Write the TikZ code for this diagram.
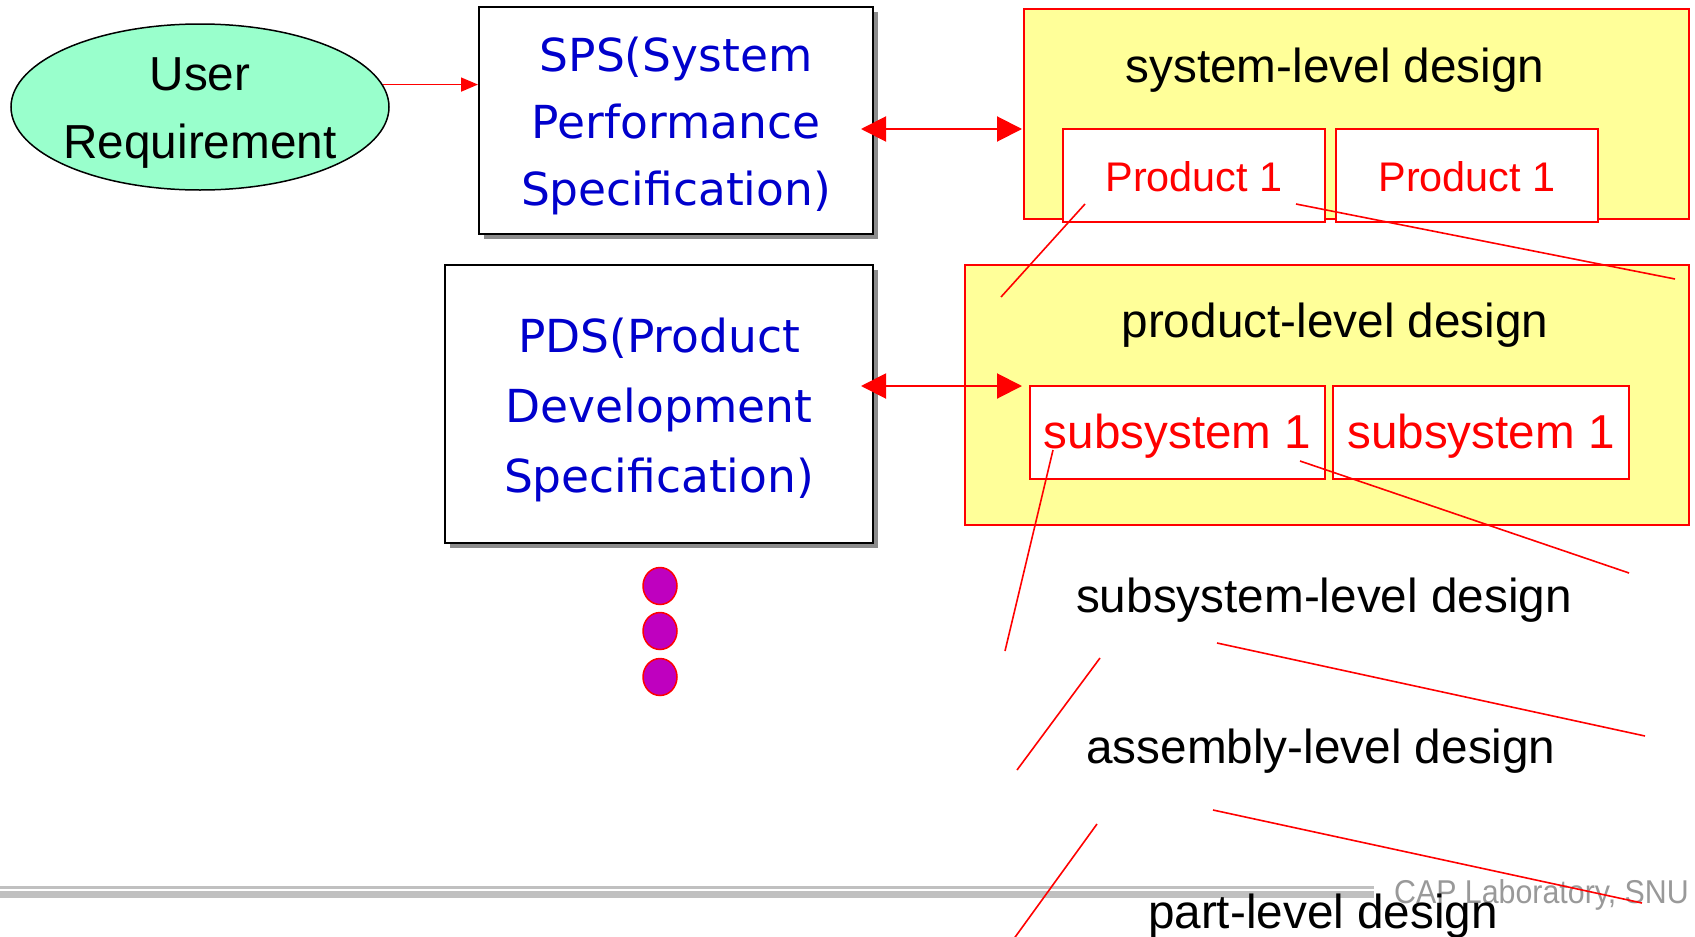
\documentclass[tikz,border=0pt]{standalone}
\usepackage{fontspec}
\setmainfont{Liberation Sans}
\newfontfamily\bluefont{DejaVu Sans}
\usetikzlibrary{arrows.meta,shapes.geometric,shadows}
\definecolor{urgreen}{HTML}{99FFCC}
\definecolor{dsyellow}{HTML}{FFFF99}
\definecolor{specblue}{HTML}{0000CC}
\definecolor{dotmag}{HTML}{BF00BF}
\definecolor{rulegray}{HTML}{C0C0C0}
\definecolor{capgray}{HTML}{999999}
\begin{document}
\begin{tikzpicture}[x=1pt,y=-1pt,
  blk/.style={font=\fontsize{47.7}{57}\selectfont, anchor=base, inner sep=0pt, text=black},
  redtxt/.style={font=\fontsize{#1}{50}\selectfont, anchor=base, inner sep=0pt, text=red},
  bluetxt/.style={font=\bluefont\fontsize{45.5}{55}\selectfont, anchor=base, inner sep=0pt, text=specblue},
  specbox/.style={rectangle, draw=black, line width=2pt, fill=white, inner sep=0pt,
    drop shadow={shadow xshift=5pt, shadow yshift=-5pt, opacity=1, fill=black!45}},
  levelbox/.style={rectangle, draw=red, line width=2pt, fill=dsyellow, inner sep=0pt},
  itembox/.style={rectangle, draw=red, line width=2pt, fill=white, inner sep=0pt},
  dotnode/.style={ellipse, draw=red, line width=1.5pt, fill=dotmag, minimum width=34pt, minimum height=37pt, inner sep=0pt},
  zoomline/.style={draw=red, line width=1.6pt},
  dblarrow/.style={draw=red, line width=2pt, {Triangle[length=25pt,width=25pt]}-{Triangle[length=25pt,width=25pt]}},
  smallarrow/.style={draw=red, line width=1.6pt, -{Triangle[length=17pt,width=14pt]}}
]
\useasboundingbox (0,0) rectangle (1695,937);
\fill[white] (0,0) rectangle (1695,937);

% bottom rules and footer
\coordinate (r1a) at (0,887.5);
\coordinate (r1b) at (1374,887.5);
\coordinate (r2a) at (0,894.5);
\coordinate (r2b) at (1374,894.5);
\draw[rulegray, line width=3pt] (r1a) -- (r1b);
\draw[rulegray, line width=7pt] (r2a) -- (r2b);
\node[anchor=base east, inner sep=0pt, text=capgray, font=\fontsize{33}{40}\selectfont] (cap) at (1689,903) {\scalebox{0.92}[1]{CAP Laboratory, SNU}};

% user requirement
\node[ellipse, draw=black, line width=1.5pt, fill=urgreen, minimum width=378pt, minimum height=166pt, inner sep=0pt] (ur) at (200,107) {};
\node[blk] (urt1) at (200,90) {User};
\node[blk] (urt2) at (200,158) {Requirement};

% spec boxes
\node[specbox, minimum width=394pt, minimum height=227pt] (sps) at (676,120.5) {};
\node[bluetxt] (spst1) at (676,71) {SPS(System};
\node[bluetxt] (spst2) at (676,138) {Performance};
\node[bluetxt] (spst3) at (676,205) {Specification)};

\node[specbox, minimum width=428pt, minimum height=278pt] (pds) at (659,404) {};
\node[bluetxt] (pdst1) at (659,352) {PDS(Product};
\node[bluetxt] (pdst2) at (659,422) {Development};
\node[bluetxt] (pdst3) at (659,492) {Specification)};

% dots
\node[dotnode] (d1) at (660,586) {};
\node[dotnode] (d2) at (660,631) {};
\node[dotnode] (d3) at (660,677) {};

% level boxes
\node[levelbox, minimum width=665pt, minimum height=210pt] (sysbox) at (1356.5,114) {};
\node[blk] (syst) at (1335,82) {system-level design};
\node[itembox, minimum width=262pt, minimum height=93pt] (p1a) at (1194,175.5) {};
\node[itembox, minimum width=262pt, minimum height=93pt] (p1b) at (1467,175.5) {};
\node[redtxt=41.4] (p1at) at (1194,191) {Product 1};
\node[redtxt=41.4] (p1bt) at (1467,191) {Product 1};

\node[levelbox, minimum width=724pt, minimum height=260pt] (prodbox) at (1327,395) {};
\node[blk] (prodt) at (1335,337) {product-level design};
\node[itembox, minimum width=295pt, minimum height=93pt] (s1a) at (1177.5,432.5) {};
\node[itembox, minimum width=296pt, minimum height=93pt] (s1b) at (1481,432.5) {};
\node[redtxt=47.6] (s1at) at (1177.5,448) {subsystem 1};
\node[redtxt=47.6] (s1bt) at (1481,448) {subsystem 1};

\node[blk] (subt) at (1324,612) {subsystem-level design};
\node[blk] (asmt) at (1321,763) {assembly-level design};
\node[blk] (partt) at (1323,928) {part-level design};

% connectors
\draw[smallarrow] (ur.7.5) -- (ur.7.5 -| sps.west);
\coordinate (a1l) at (861,129);
\coordinate (a1r) at (1022,129);
\coordinate (a2l) at (861,386);
\coordinate (a2r) at (1022,386);
\draw[dblarrow] (a1l) -- (a1r);
\draw[dblarrow] (a2l) -- (a2r);

% zoom lines
\draw[zoomline] (1085,204) -- (1001,297);
\draw[zoomline] (1296,204) -- (1675,279);
\draw[zoomline] (1053,450) -- (1005,651);
\draw[zoomline] (1300,461) -- (1629,573);
\draw[zoomline] (1100,658) -- (1017,770);
\draw[zoomline] (1217,643) -- (1645,736);
\draw[zoomline] (1097,824) -- (1013,940);
\draw[zoomline] (1213,810) -- (1642,903);
\end{tikzpicture}
\end{document}
